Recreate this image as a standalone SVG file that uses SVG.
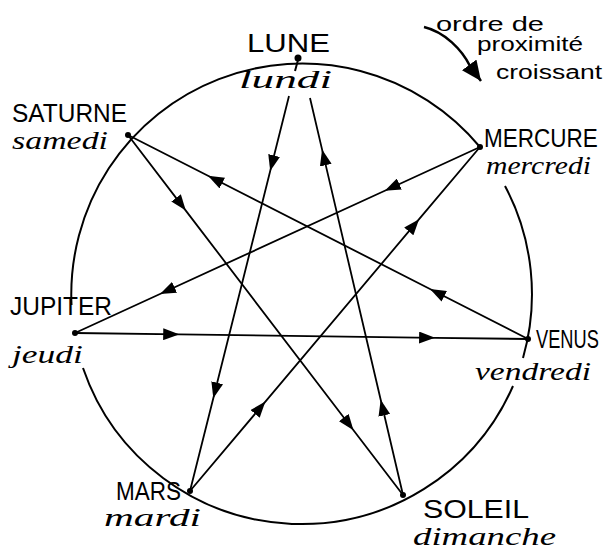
<svg xmlns="http://www.w3.org/2000/svg" width="605" height="550" viewBox="0 0 605 550">
<style>
.caps{font-family:"Liberation Sans","DejaVu Sans",sans-serif;font-size:25px;fill:#000}
.day{font-family:"Liberation Serif","DejaVu Serif",serif;font-style:italic;font-size:25px;fill:#000}
.note{font-family:"Liberation Sans","DejaVu Sans",sans-serif;font-size:20px;fill:#000}
.circ{fill:none;stroke:#000;stroke-width:2}
.ln{fill:none;stroke:#000;stroke-width:1.8;marker-mid:url(#ah)}
.dot{fill:#000}
</style>
<defs>
<marker id="ah" viewBox="0 0 16 12" refX="16" refY="6" markerWidth="16" markerHeight="12" orient="auto" markerUnits="userSpaceOnUse">
<path d="M0,0 L16,6 L0,12 Z" fill="#000"/>
</marker>
<marker id="bigah" viewBox="0 0 20 18" refX="20" refY="9" markerWidth="20" markerHeight="18" orient="auto" markerUnits="userSpaceOnUse">
<path d="M0,0 L20,9 L0,18 Z" fill="#000"/>
</marker>
</defs>
<g id="circle">
<path class="circ" d="M71.5,305 A231,231 0 0 1 480,147"/>
<path class="circ" d="M505,186 A231,231 0 0 1 523,358"/>
<path class="circ" d="M513,386 A231,231 0 0 1 83,368"/>
</g>
<g id="connectors">
<polyline class="ln" points="289,96 270.2,171 213.3,398.2 190,491"/>
<polyline class="ln" points="403,495 380.7,399.7 322.1,149.6 310,98"/>
<polyline class="ln" points="128,135 185.8,210.6 353.5,430.2 403,495"/>
<polyline class="ln" points="528,339 430,289 208,175.8 128,135"/>
<polyline class="ln" points="480,147 384.8,190.7 160,294 75,333"/>
<polyline class="ln" points="190,491 265.4,401.6 419.1,219.2 480,147"/>
<polyline class="ln" points="75,333 179.2,334.4 435.1,337.8 528,339"/>
<line x1="295" y1="71" x2="298" y2="60" stroke="#000" stroke-width="2"/>
</g>
<g id="lune">
<circle class="dot" cx="298" cy="58" r="3.5"/>
<text class="caps" x="247" y="52" textLength="83" lengthAdjust="spacingAndGlyphs">LUNE</text>
<text class="day" x="239" y="88" textLength="93" lengthAdjust="spacingAndGlyphs">lundi</text>
</g>
<g id="saturne">
<circle class="dot" cx="128" cy="135" r="3"/>
<text class="caps" x="12" y="122" textLength="115" lengthAdjust="spacingAndGlyphs">SATURNE</text>
<text class="day" x="12" y="149" textLength="96" lengthAdjust="spacingAndGlyphs">samedi</text>
</g>
<g id="mercure">
<circle class="dot" cx="480" cy="147" r="3"/>
<text class="caps" transform="translate(484,147) scale(0.9,1)" x="0" y="0">MERCURE</text>
<text class="day" x="486" y="174" textLength="105" lengthAdjust="spacingAndGlyphs">mercredi</text>
</g>
<g id="jupiter">
<circle class="dot" cx="75" cy="333" r="3"/>
<text class="caps" x="10" y="315" textLength="102" lengthAdjust="spacingAndGlyphs">JUPITER</text>
<text class="day" x="12" y="363" textLength="71" lengthAdjust="spacingAndGlyphs">jeudi</text>
</g>
<g id="venus">
<circle class="dot" cx="528" cy="339" r="3"/>
<text class="caps" transform="translate(536,348) scale(0.73,1)" x="0" y="0">VENUS</text>
<text class="day" x="475" y="380" textLength="116" lengthAdjust="spacingAndGlyphs">vendredi</text>
</g>
<g id="mars">
<circle class="dot" cx="190" cy="491" r="3"/>
<text class="caps" x="116" y="500" textLength="65" lengthAdjust="spacingAndGlyphs">MARS</text>
<text class="day" x="104" y="526" textLength="97" lengthAdjust="spacingAndGlyphs">mardi</text>
</g>
<g id="soleil">
<circle class="dot" cx="403" cy="495" r="3"/>
<text class="caps" x="423" y="518" textLength="106" lengthAdjust="spacingAndGlyphs">SOLEIL</text>
<text class="day" x="413" y="545" textLength="143" lengthAdjust="spacingAndGlyphs">dimanche</text>
</g>
<g id="note">
<path d="M424,27 C445,32 462,50 470,66" fill="none" stroke="#000" stroke-width="2.5"/>
<path d="M470,66 L481,81" fill="none" stroke="#000" stroke-width="2.5" marker-end="url(#bigah)"/>
<text class="note" x="436" y="31" textLength="108" lengthAdjust="spacingAndGlyphs">ordre de</text>
<text class="note" x="477" y="51" textLength="106" lengthAdjust="spacingAndGlyphs">proximité</text>
<text class="note" x="496" y="79" textLength="106" lengthAdjust="spacingAndGlyphs">croissant</text>
</g>
</svg>
